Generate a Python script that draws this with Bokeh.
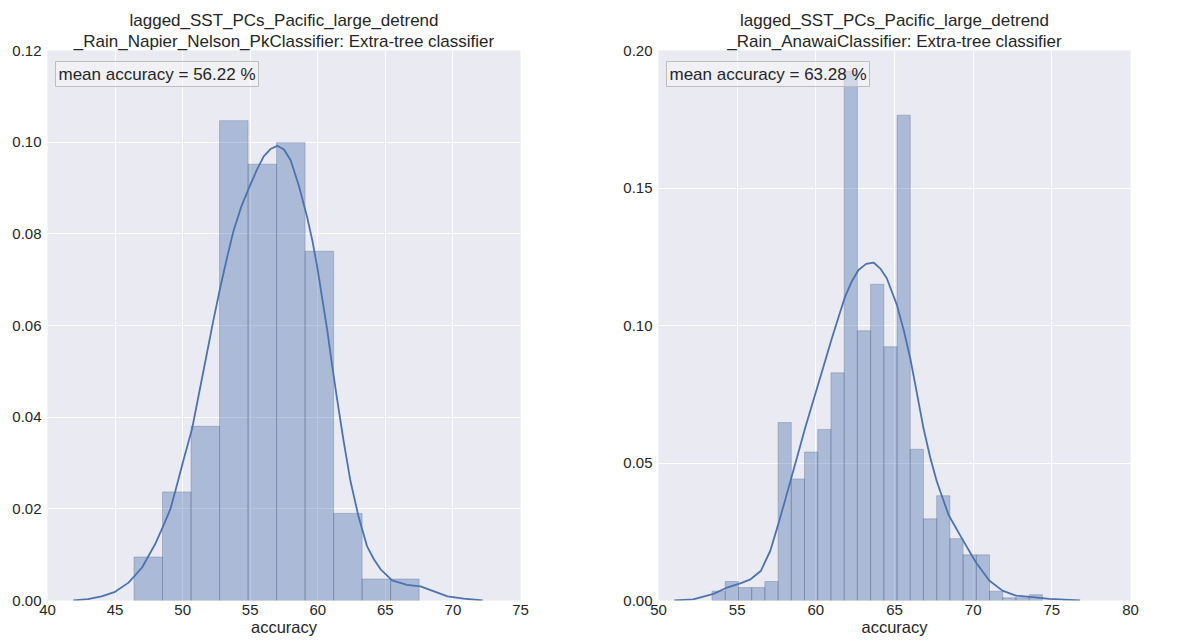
from bokeh.plotting import figure
from bokeh.layouts import row
from bokeh.models import FixedTicker, PrintfTickFormatter, Label, Range1d, Title
from bokeh.embed import file_html
from bokeh.resources import INLINE

# ---------------- data ----------------
left_title = ["lagged_SST_PCs_Pacific_large_detrend",
              "_Rain_Napier_Nelson_PkClassifier: Extra-tree classifier"]
left_note = "mean accuracy = 56.22 %"
left_edges = [46.40, 48.51, 50.62, 52.73, 54.84, 56.95, 59.06, 61.17, 63.28, 65.39, 67.50]
left_density = [0.0095, 0.0237, 0.0380, 0.1047, 0.0952, 0.0999, 0.0762, 0.0190, 0.0047, 0.0047]
left_kde_x = [41.9, 43.0, 44.0, 45.0, 46.0, 47.0, 48.0, 48.6, 49.1, 49.45, 50.05, 50.7, 51.2,
              51.8, 52.3, 52.8, 53.3, 53.75, 54.35, 54.95, 55.5, 56.0, 56.5, 57.0, 57.5, 58.0,
              58.6, 59.2, 59.6, 60.0, 60.35, 60.7, 61.05, 61.4, 61.9, 62.4, 63.0, 63.65, 64.15,
              64.65, 65.5, 66.6, 67.6, 68.6, 69.6, 70.8, 72.2]
left_kde_y = [0.0, 0.0003, 0.0009, 0.0019, 0.0039, 0.0072, 0.0125, 0.0165, 0.0200, 0.0238,
              0.0305, 0.0375, 0.0450, 0.0540, 0.0615, 0.0685, 0.0750, 0.0805, 0.0860, 0.0903,
              0.0940, 0.0969, 0.0985, 0.0992, 0.0984, 0.0960, 0.0905, 0.0838, 0.0785, 0.0721,
              0.0655, 0.0590, 0.0515, 0.0445, 0.0350, 0.0263, 0.0185, 0.0118, 0.0090, 0.0068,
              0.0044, 0.0034, 0.0031, 0.0020, 0.0009, 0.0004, 0.0]
left_xticks = [40, 45, 50, 55, 60, 65, 70, 75]
left_yticks = [0.00, 0.02, 0.04, 0.06, 0.08, 0.10, 0.12]

right_title = ["lagged_SST_PCs_Pacific_large_detrend",
               "_Rain_AnawaiClassifier: Extra-tree classifier"]
right_note = "mean accuracy = 63.28 %"
right_edges = [53.40, 54.24, 55.08, 55.92, 56.76, 57.60, 58.44, 59.28, 60.12, 60.96, 61.80, 62.64,
               63.48, 64.32, 65.16, 66.00, 66.84, 67.68, 68.52, 69.36, 70.20, 71.04, 71.88, 72.72,
               73.56, 74.40]
right_density = [0.0034, 0.0069, 0.0047, 0.0047, 0.0069, 0.0647, 0.0442, 0.0540, 0.0622, 0.0828,
                 0.1925, 0.0981, 0.1150, 0.0923, 0.1765, 0.0550, 0.0297, 0.0381, 0.0225, 0.0166,
                 0.0166, 0.0034, 0.0010, 0.0010, 0.0021]
right_kde_x = [51.0, 52.2, 53.5, 54.4, 55.2, 55.85, 56.5, 57.1, 57.6, 58.05, 58.47, 58.9, 59.32,
               59.75, 60.17, 60.6, 61.02, 61.45, 61.86, 62.3, 62.71, 63.2, 63.67, 64.1, 64.51,
               65.15, 65.6, 66.0, 66.42, 66.84, 67.27, 67.69, 68.43, 69.3, 70.17, 71.02, 71.86,
               72.71, 73.77, 74.83, 76.8]
right_kde_y = [0.0, 0.0004, 0.0024, 0.0048, 0.0062, 0.0077, 0.0107, 0.0180, 0.0275, 0.0365,
               0.0452, 0.0540, 0.0627, 0.0710, 0.0790, 0.0873, 0.0954, 0.1032, 0.1105, 0.1162,
               0.1202, 0.1224, 0.1229, 0.1207, 0.1172, 0.1075, 0.0980, 0.0881, 0.0755, 0.0627,
               0.0520, 0.0433, 0.0312, 0.0224, 0.0139, 0.0073, 0.0036, 0.0018, 0.0012, 0.0006,
               0.0]
right_xticks = [50, 55, 60, 65, 70, 75, 80]
right_yticks = [0.00, 0.05, 0.10, 0.15, 0.20]

# ---------------- style ----------------
FONT = "Liberation Sans"
BAR = "#4C72B0"
TXT = "#262626"


def style_title(t):
    t.align = "center"
    t.text_font = FONT
    t.text_font_size = "17px"
    t.text_font_style = "normal"
    t.text_color = TXT
    t.standoff = 0


def panel(title, note, edges, dens, kx, ky, xt, yt, fw, bl, br):
    p = figure(frame_width=fw, frame_height=550,
               x_range=Range1d(xt[0], xt[-1]), y_range=Range1d(yt[0], yt[-1]),
               output_backend="svg", toolbar_location=None,
               min_border_left=bl, min_border_right=br, min_border_top=50, min_border_bottom=40)
    p.background_fill_color = "#EAEAF2"
    p.border_fill_color = "white"
    p.outline_line_color = None

    # two centred title lines
    p.title.text = title[0]
    style_title(p.title)
    t2 = Title(text=title[1])
    style_title(t2)
    p.add_layout(t2, "above")

    for ax in (p.xaxis[0], p.yaxis[0]):
        ax.axis_line_color = None
        ax.major_tick_line_color = None
        ax.minor_tick_line_color = None
        ax.major_tick_out = 0
        ax.major_tick_in = 0
        ax.minor_tick_out = 0
        ax.major_label_text_font = FONT
        ax.major_label_text_font_size = "15px"
        ax.major_label_text_color = TXT
    p.xaxis.ticker = FixedTicker(ticks=xt)
    p.yaxis.ticker = FixedTicker(ticks=yt)
    p.xaxis.formatter = PrintfTickFormatter(format="%d")
    p.yaxis.formatter = PrintfTickFormatter(format="%.2f")
    p.xaxis.major_label_standoff = 4
    p.yaxis.major_label_standoff = 6
    p.xaxis.axis_label = "accuracy"
    p.xaxis.axis_label_text_font = FONT
    p.xaxis.axis_label_text_font_size = "16.5px"
    p.xaxis.axis_label_text_font_style = "normal"
    p.xaxis.axis_label_text_color = TXT
    p.xaxis.axis_label_standoff = 0

    p.grid.grid_line_color = "white"
    p.grid.grid_line_width = 1

    p.quad(left=edges[:-1], right=edges[1:], bottom=0, top=dens,
           fill_color=BAR, fill_alpha=0.4, line_color="#4C5E80", line_alpha=0.3, line_width=1)
    p.line(kx, ky, line_color=BAR, line_width=1.8)

    lab = Label(x=xt[0], y=yt[-1], x_offset=8, y_offset=-11, text=note,
                text_font=FONT, text_font_size="17px", text_color=TXT,
                text_align="left", text_baseline="top",
                background_fill_color="#F6F6F8", background_fill_alpha=0.5,
                border_line_color="#BDBDBD", border_line_width=1, padding=3)
    p.add_layout(lab)
    return p


left = panel(left_title, left_note, left_edges, left_density, left_kde_x, left_kde_y,
             left_xticks, left_yticks, 473, 47, 70)
right = panel(right_title, right_note, right_edges, right_density, right_kde_x, right_kde_y,
              right_xticks, right_yticks, 472, 68, 55)

layout = row(left, right)
open("out.html", "w").write(file_html(layout, INLINE))
